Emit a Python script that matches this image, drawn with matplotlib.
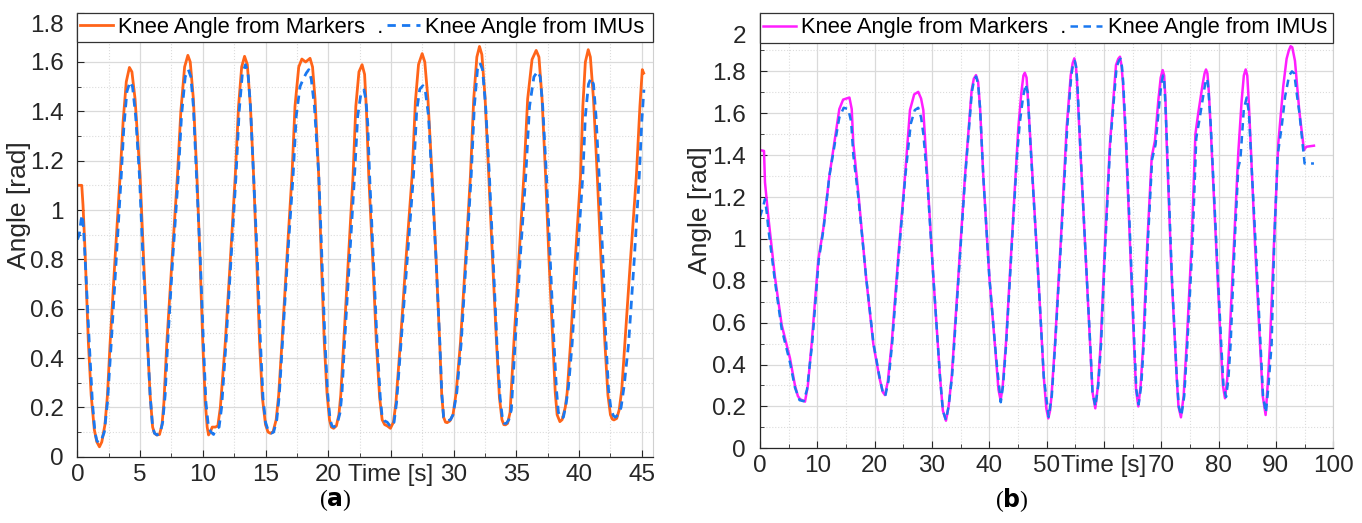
import matplotlib
matplotlib.use("Agg")
import matplotlib.pyplot as plt
from matplotlib.ticker import MultipleLocator, FixedLocator
from matplotlib.patches import Rectangle
import matplotlib.transforms as mtransforms

plt.rcParams['font.family'] = ['Liberation Sans', 'DejaVu Sans']

# ---- (a) knee angle, markers vs IMUs ----
t_a_mk = [0, 0.35, 0.45, 0.6, 0.88, 1.1, 1.35, 1.55, 1.76, 1.95, 2.2, 2.4, 2.61, 3.0, 3.41, 3.65, 3.9,
          4.15, 4.35, 4.6, 5.0, 5.3, 5.59, 5.8, 6.0, 6.15, 6.33, 6.55, 6.75, 6.9, 7.13, 7.55, 7.98,
          8.25, 8.55, 8.81, 9.0, 9.25, 9.53, 9.78, 10.0, 10.2, 10.35, 10.46, 10.6, 10.75, 11.0, 11.2,
          11.4, 11.79, 12.2, 12.59, 12.85, 13.1, 13.33, 13.55, 13.8, 14.05, 14.3, 14.53, 14.75, 15.0,
          15.2, 15.38, 15.6, 15.85, 16.05, 16.31, 16.7, 17.11, 17.35, 17.65, 17.9, 18.2, 18.55,
          18.75, 18.95, 19.24, 19.45, 19.69, 19.9, 20.1, 20.25, 20.43, 20.65, 20.85, 21.0, 21.23,
          21.6, 21.98, 22.2, 22.45, 22.7, 22.9, 23.05, 23.23, 23.55, 23.84, 24.1, 24.3, 24.5, 24.7,
          24.96, 25.2, 25.4, 25.75, 26.2, 26.69, 26.95, 27.2, 27.49, 27.7, 27.95, 28.28, 28.6,
          28.89, 29.05, 29.2, 29.35, 29.48, 29.7, 29.95, 30.2, 30.54, 30.95, 31.34, 31.6, 31.85,
          32.06, 32.25, 32.5, 32.8, 33.1, 33.42, 33.65, 33.85, 34.0, 34.13, 34.3, 34.5, 34.8, 35.2,
          35.6, 35.9, 36.25, 36.58, 36.8, 37.05, 37.33, 37.6, 37.91, 38.1, 38.25, 38.47, 38.65,
          38.9, 39.05, 39.32, 39.7, 40.12, 40.3, 40.5, 40.73, 40.9, 41.15, 41.45, 41.75, 42.06,
          42.3, 42.5, 42.65, 42.78, 43.0, 43.2, 43.4, 43.65, 44.1, 44.57, 44.85, 45.04, 45.15]
y_a_mk = [1.10, 1.10, 1.02, 0.85, 0.46, 0.25, 0.11, 0.06, 0.04, 0.06, 0.13, 0.25, 0.46, 0.80, 1.14, 1.36, 1.52,
          1.578, 1.56, 1.45, 1.14, 0.78, 0.46, 0.25, 0.12, 0.095, 0.088, 0.09, 0.13, 0.22, 0.46, 0.80, 1.14,
          1.40, 1.58, 1.627, 1.60, 1.45, 1.14, 0.80, 0.46, 0.22, 0.12, 0.088, 0.10, 0.12, 0.12, 0.125,
          0.20, 0.46, 0.80, 1.14, 1.42, 1.58, 1.623, 1.59, 1.42, 1.14, 0.80, 0.46, 0.24, 0.13,
          0.10, 0.095, 0.10, 0.15, 0.25, 0.46, 0.80, 1.14, 1.42, 1.58, 1.612, 1.60, 1.615,
          1.58, 1.45, 1.14, 0.80, 0.46, 0.26, 0.15, 0.12, 0.115, 0.125, 0.17, 0.25, 0.46,
          0.80, 1.14, 1.42, 1.56, 1.589, 1.55, 1.40, 1.14, 0.80, 0.46, 0.24, 0.15, 0.13, 0.125,
          0.115, 0.14, 0.22, 0.46, 0.80, 1.14, 1.44, 1.59, 1.634, 1.60, 1.45, 1.14, 0.80,
          0.46, 0.25, 0.16, 0.14, 0.138, 0.145, 0.17, 0.26, 0.46, 0.80, 1.14, 1.45, 1.62,
          1.663, 1.63, 1.46, 1.14, 0.80, 0.46, 0.24, 0.15, 0.13, 0.129, 0.135, 0.18, 0.46, 0.80,
          1.14, 1.45, 1.61, 1.647, 1.62, 1.45, 1.14, 0.80, 0.46, 0.26, 0.17, 0.142, 0.15,
          0.20, 0.26, 0.46, 0.80, 1.14, 1.42, 1.60, 1.65, 1.62, 1.45, 1.14, 0.80, 0.46,
          0.25, 0.17, 0.152, 0.149, 0.155, 0.19, 0.27, 0.46, 0.80, 1.14, 1.42, 1.569, 1.555]

t_a_imu = [0, 0.15, 0.3, 0.4, 0.5, 0.7, 0.95, 1.2, 1.4, 1.55, 1.7, 1.9, 2.15, 2.4, 2.7, 3.1, 3.5, 3.7,
           3.95, 4.2, 4.4, 4.65, 4.95, 5.25, 5.6, 5.8, 6.0, 6.15, 6.35, 6.6, 6.8, 7.0, 7.2, 7.6, 8.05,
           8.3, 8.6, 8.85, 9.05, 9.25, 9.5, 9.8, 10.05, 10.25, 10.45, 10.65, 10.86, 11.0, 11.3, 11.5,
           11.85, 12.25, 12.65, 12.9, 13.15, 13.4, 13.6, 13.8, 14.05, 14.35, 14.6, 14.8, 15.0, 15.25,
           15.45, 15.65, 15.9, 16.1, 16.35, 16.75, 17.2, 17.45, 17.75, 18.0, 18.25, 18.45, 18.65,
           18.9, 19.25, 19.5, 19.75, 19.95, 20.15, 20.3, 20.45, 20.7, 20.95, 21.1, 21.3, 21.7, 22.1,
           22.35, 22.6, 22.85, 23.0, 23.15, 23.3, 23.6, 23.9, 24.15, 24.3, 24.5, 24.7, 25.0, 25.25,
           25.45, 25.8, 26.3, 26.8, 27.05, 27.3, 27.55, 27.75, 28.0, 28.25, 28.6, 28.9, 29.05, 29.2,
           29.5, 29.75, 29.95, 30.25, 30.6, 31.0, 31.4, 31.65, 31.9, 32.1, 32.3, 32.55, 32.85, 33.15,
           33.45, 33.7, 33.9, 34.05, 34.2, 34.4, 34.6, 34.9, 35.3, 35.75, 36.05, 36.4, 36.7, 36.9,
           37.1, 37.4, 37.7, 38.0, 38.2, 38.35, 38.55, 38.75, 38.95, 39.15, 39.45, 39.85, 40.3,
           40.5, 40.75, 40.95, 41.15, 41.35, 41.6, 41.9, 42.15, 42.35, 42.55, 42.75, 42.9, 43.1,
           43.35, 43.6, 43.95, 44.4, 44.8, 45.0, 45.17]
y_a_imu = [0.88, 0.90, 0.96, 0.98, 0.92, 0.72, 0.46, 0.22, 0.10, 0.065, 0.057, 0.065, 0.10, 0.22, 0.46, 0.80, 1.14, 1.33,
           1.48, 1.52, 1.50, 1.38, 1.14, 0.78, 0.46, 0.25, 0.12, 0.095, 0.088, 0.095, 0.14, 0.25, 0.46, 0.80, 1.14,
           1.38, 1.54, 1.569, 1.54, 1.42, 1.14, 0.80, 0.46, 0.22, 0.12, 0.10, 0.09, 0.11, 0.12, 0.20,
           0.46, 0.80, 1.14, 1.40, 1.55, 1.589, 1.56, 1.42, 1.14, 0.80, 0.46, 0.24, 0.14, 0.10,
           0.095, 0.10, 0.15, 0.25, 0.46, 0.80, 1.14, 1.38, 1.50, 1.53, 1.555, 1.569, 1.53,
           1.42, 1.14, 0.80, 0.46, 0.26, 0.15, 0.125, 0.12, 0.13, 0.18, 0.26, 0.46, 0.80, 1.14,
           1.38, 1.47, 1.487, 1.45, 1.35, 1.14, 0.80, 0.46, 0.24, 0.16, 0.145, 0.14, 0.12, 0.14,
           0.22, 0.46, 0.80, 1.14, 1.40, 1.49, 1.504, 1.48, 1.38, 1.14, 0.80, 0.46, 0.26, 0.16,
           0.145, 0.15, 0.17, 0.26, 0.46, 0.80, 1.14, 1.42, 1.57, 1.596, 1.57, 1.42, 1.14, 0.80,
           0.46, 0.24, 0.15, 0.135, 0.135, 0.15, 0.19, 0.46, 0.80, 1.14, 1.42, 1.54, 1.562, 1.54,
           1.42, 1.14, 0.80, 0.46, 0.27, 0.18, 0.155, 0.16, 0.21, 0.28, 0.46, 0.80, 1.14,
           1.38, 1.51, 1.535, 1.51, 1.38, 1.14, 0.80, 0.46, 0.27, 0.19, 0.165, 0.16, 0.17,
           0.20, 0.29, 0.46, 0.80, 1.14, 1.36, 1.488]

# ---- (b) ----
t_b_mk = [0, 0.7, 0.87, 1.45, 2.6, 3.78, 5.23, 6.1, 6.6, 6.98, 7.85, 8.35, 9.01, 10.17, 11.05, 12.1, 13.08,
          13.84, 14.5, 15.6, 16.0, 16.28, 17.15, 18.49, 19.76, 20.81, 21.4, 21.8, 22.3, 22.97, 24.13,
          25.3, 26.16, 26.9, 27.6, 28.1, 28.49, 29.18, 30.23, 31.4, 31.9, 32.44, 32.9, 33.44, 34.6,
          35.76, 36.92, 37.3, 37.68, 38.05, 38.4, 38.95, 40.0, 41.17, 41.6, 41.98, 42.35, 42.9, 43.9,
          44.77, 45.06, 45.6, 45.95, 46.2, 46.5, 46.8, 47.2, 48.55, 49.5, 49.95, 50.29, 50.6, 50.85,
          51.46, 52.45, 53.5, 54.2, 54.55, 54.83, 55.1, 55.3, 55.82, 56.69, 57.56, 58.0, 58.49,
          58.95, 59.43, 60.18, 61.05, 62.1, 62.5, 62.8, 63.05, 63.3, 63.84, 64.54, 65.24, 65.6,
          65.99, 66.4, 66.86, 67.56, 68.33, 68.9, 69.48, 69.9, 70.24, 70.5, 70.75, 70.94, 71.81,
          72.68, 73.0, 73.43, 73.9, 74.43, 75.3, 75.95, 76.45, 77.22, 77.55, 77.8, 78.05, 78.3,
          78.61, 79.54, 80.36, 80.75, 81.11, 81.5, 81.86, 82.68, 83.43, 84.02, 84.4, 84.72, 85.0,
          85.25, 85.59, 86.34, 87.22, 87.7, 88.2, 88.55, 88.96, 89.66, 90.41, 91.28, 91.86, 92.25,
          92.56, 92.85, 93.1, 93.32, 94.08, 94.89, 95.3, 96.63]
y_b_mk = [1.424, 1.42, 1.27, 1.105, 0.82, 0.59, 0.43, 0.30, 0.25, 0.235, 0.223, 0.30, 0.50, 0.90, 1.05, 1.30, 1.48,
          1.62, 1.665, 1.675, 1.62, 1.456, 1.22, 0.82, 0.50, 0.34, 0.27, 0.254, 0.32, 0.50, 0.92,
          1.30, 1.615, 1.69, 1.702, 1.67, 1.615, 1.30, 0.82, 0.342, 0.18, 0.132, 0.20, 0.342, 0.82,
          1.30, 1.71, 1.765, 1.782, 1.75, 1.62, 1.30, 0.82, 0.43, 0.28, 0.229, 0.30, 0.50, 0.98,
          1.40, 1.53, 1.70, 1.78, 1.793, 1.77, 1.64, 1.456, 0.82, 0.342, 0.19, 0.143, 0.18, 0.25,
          0.50, 0.98, 1.535, 1.78, 1.84, 1.862, 1.83, 1.75, 1.456, 0.98, 0.50, 0.27, 0.191,
          0.30, 0.50, 0.98, 1.456, 1.83, 1.86, 1.87, 1.83, 1.75, 1.456, 0.98, 0.50, 0.28,
          0.20, 0.30, 0.50, 0.98, 1.39, 1.47, 1.66, 1.77, 1.806, 1.78, 1.65, 1.456, 0.82,
          0.342, 0.20, 0.148, 0.25, 0.50, 0.98, 1.50, 1.60, 1.74, 1.79, 1.809, 1.79, 1.70,
          1.535, 0.98, 0.50, 0.30, 0.239, 0.33, 0.50, 0.98, 1.41, 1.66, 1.78, 1.809, 1.78,
          1.66, 1.456, 0.98, 0.50, 0.25, 0.159, 0.30, 0.50, 0.98, 1.456, 1.73, 1.86, 1.90,
          1.92, 1.915, 1.88, 1.85, 1.61, 1.424, 1.44, 1.445]

t_b_imu = [0, 0.5, 0.87, 1.2, 1.45, 2.6, 3.78, 5.23, 6.1, 6.9, 7.6, 8.2, 9.1, 10.25, 11.1, 12.1, 13.08,
           13.84, 14.6, 15.4, 15.9, 16.28, 17.15, 18.5, 19.8, 20.85, 21.4, 21.85, 22.4, 23.05, 24.2,
           25.35, 26.3, 27.0, 27.6, 28.1, 28.5, 29.18, 30.23, 31.4, 31.9, 32.44, 32.9, 33.5, 34.65,
           35.8, 36.95, 37.35, 37.7, 38.05, 38.4, 38.95, 40.0, 41.2, 42.0, 42.4, 42.95, 43.95, 44.85,
           45.3, 45.9, 46.35, 46.7, 47.2, 48.55, 49.5, 50.35, 50.9, 51.5, 52.5, 53.6, 54.3, 54.6,
           54.9, 55.15, 55.35, 55.85, 56.7, 57.6, 58.0, 58.5, 59.0, 59.5, 60.25, 61.1, 62.2, 62.6,
           62.9, 63.15, 63.35, 63.9, 64.6, 65.3, 65.65, 66.05, 66.5, 66.95, 67.65, 68.4, 69.0, 69.6,
           70.0, 70.3, 70.5, 70.65, 71.0, 71.85, 72.7, 73.05, 73.5, 74.0, 74.55, 75.45, 76.1, 76.6,
           77.3, 77.65, 77.9, 78.1, 78.25, 78.65, 79.6, 80.45, 80.85, 81.3, 81.7, 82.1, 82.8, 83.43,
           83.8, 84.4, 84.9, 85.3, 85.65, 86.45, 87.3, 87.75, 88.25, 88.7, 89.25, 89.7, 90.3, 91.0,
           91.6, 92.3, 92.8, 93.2, 93.6, 94.1, 94.77, 95.0, 96.63]
y_b_imu = [1.105, 1.15, 1.19, 1.12, 1.05, 0.80, 0.57, 0.41, 0.29, 0.23, 0.225, 0.28, 0.50, 0.90, 1.05, 1.30, 1.46,
           1.58, 1.626, 1.62, 1.56, 1.40, 1.20, 0.82, 0.50, 0.34, 0.27, 0.25, 0.32, 0.50, 0.92,
           1.30, 1.55, 1.615, 1.626, 1.58, 1.50, 1.28, 0.82, 0.342, 0.18, 0.135, 0.20, 0.342, 0.82,
           1.30, 1.70, 1.76, 1.775, 1.74, 1.62, 1.30, 0.82, 0.43, 0.22, 0.30, 0.50, 0.98, 1.40,
           1.55, 1.68, 1.739, 1.70, 1.44, 0.82, 0.342, 0.15, 0.25, 0.50, 0.98, 1.535, 1.78, 1.83,
           1.85, 1.82, 1.75, 1.456, 0.98, 0.50, 0.27, 0.20, 0.30, 0.50, 0.98, 1.456, 1.82, 1.85,
           1.86, 1.82, 1.75, 1.456, 0.98, 0.50, 0.28, 0.21, 0.30, 0.50, 0.98, 1.38, 1.45, 1.63,
           1.74, 1.78, 1.76, 1.68, 1.456, 0.82, 0.342, 0.20, 0.155, 0.25, 0.50, 0.98, 1.48, 1.56,
           1.68, 1.74, 1.766, 1.75, 1.70, 1.535, 0.98, 0.50, 0.30, 0.245, 0.33, 0.50, 0.98, 1.34,
           1.38, 1.62, 1.675, 1.60, 1.40, 0.98, 0.50, 0.25, 0.17, 0.30, 0.50, 0.98, 1.40, 1.535,
           1.68, 1.78, 1.80, 1.79, 1.70, 1.60, 1.424, 1.36, 1.36]

yticks_a = [0, 0.2, 0.4, 0.6, 0.8, 1.0, 1.2, 1.4, 1.6, 1.8]
yticks_b = [0, 0.2, 0.4, 0.6, 0.8, 1.0, 1.2, 1.4, 1.6, 1.8, 2.0]
xticks_a = [0, 5, 10, 15, 20, 25, 30, 35, 40, 45]
xticks_b = [0, 10, 20, 30, 40, 50, 60, 70, 80, 90, 100]

leg_labels = ['Knee Angle from Markers  .', 'Knee Angle from IMUs']

fig = plt.figure(figsize=(13.62, 5.23), dpi=100)
ax_a = fig.add_axes([0.0568, 0.1268, 0.4227, 0.849])
ax_b = fig.add_axes([0.558, 0.1428, 0.4209, 0.8329])

FS = 17.5
LEG_FS = 15.8


def style(ax, xt, yt, xmax, ymax, xminor, xlab_at, top_shift):
    ax.set_xlim(0, xmax)
    ax.set_ylim(0, ymax)
    ax.xaxis.set_major_locator(FixedLocator(xt))
    ax.yaxis.set_major_locator(FixedLocator(yt))
    ax.xaxis.set_minor_locator(MultipleLocator(xminor))
    ax.yaxis.set_minor_locator(MultipleLocator(0.1))
    ax.set_xticklabels(['Time [s]' if v == xlab_at else '%g' % v for v in xt])
    ax.set_yticklabels(['%g' % v for v in yt])
    ax.grid(True, which='major', color='#dadada', lw=0.9, ls='-')
    ax.grid(True, which='minor', color='#dcdcdc', lw=0.8, ls=':')
    ax.set_axisbelow(True)
    ax.tick_params(which='both', direction='in', colors='#262626', labelsize=FS)
    ax.tick_params(which='major', length=5, width=0.8)
    ax.tick_params(which='minor', length=3, width=0.6)
    ax.tick_params(axis='y', pad=10)
    ax.tick_params(axis='x', pad=5)
    for s in ['left', 'bottom']:
        ax.spines[s].set_color('#262626')
        ax.spines[s].set_linewidth(0.9)
    for s in ['top', 'right']:
        ax.spines[s].set_color('#d0d0d0')
        ax.spines[s].set_linewidth(0.8)
    lbls = ax.get_yticklabels()
    off = mtransforms.ScaledTranslation(0, -top_shift / 100.0, fig.dpi_scale_trans)
    lbls[-1].set_transform(lbls[-1].get_transform() + off)
    ax.set_ylabel('Angle [rad]', fontsize=19, color='#262626')


style(ax_a, xticks_a, yticks_a, 45.9, 1.8, 2.5, 25, 11)
style(ax_b, xticks_b, yticks_b, 100, 2.08, 5, 60, 5)
ax_a.yaxis.set_label_coords(-0.081, 0.567)
ax_b.yaxis.set_label_coords(-0.083, 0.547)

ax_a.plot(t_a_mk, y_a_mk, color='#ff6419', lw=2.0, label=leg_labels[0])
ax_a.plot(t_a_imu, y_a_imu, color='#1a78f0', lw=2.0, ls=(0, (3, 2.2)), label=leg_labels[1])
ax_b.plot(t_b_mk, y_b_mk, color='#ff1eff', lw=1.8, label=leg_labels[0])
ax_b.plot(t_b_imu, y_b_imu, color='#1a78f0', lw=1.8, ls=(0, (3, 2.2)), label=leg_labels[1])

for ax, h in [(ax_a, 0.067), (ax_b, 0.070)]:
    ax.add_patch(Rectangle((0, 1 - h), 1, h, transform=ax.transAxes, facecolor='white',
                           edgecolor='#333333', lw=0.9, zorder=4, clip_on=False))
    leg = ax.legend(loc='center left', bbox_to_anchor=(0, 1 - h / 2), ncol=2,
                    fontsize=LEG_FS, frameon=False, borderaxespad=0,
                    handlelength=1.5, handletextpad=0.25, columnspacing=0.15, borderpad=0.12)
    leg.set_zorder(5)

fig.text(335 / 1362, 1 - 500 / 523, r'($\mathbf{a}$)', ha='center', va='center', fontsize=17,
         family='Liberation Serif')
fig.text(1012 / 1362, 1 - 500 / 523, r'($\mathbf{b}$)', ha='center', va='center', fontsize=17,
         family='Liberation Serif')

fig.savefig('out.png', dpi=100)
